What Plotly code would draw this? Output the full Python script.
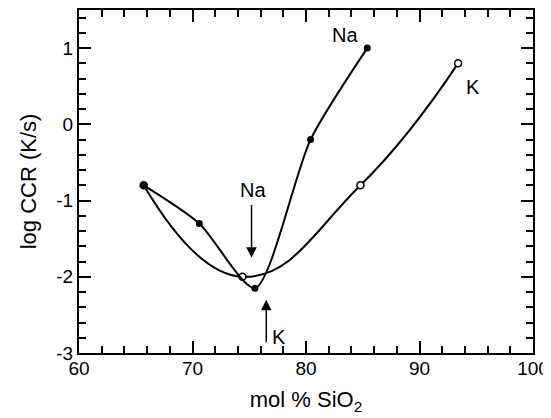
import plotly.graph_objects as go

na_sio2 = [65.7, 70.6, 75.5, 80.4, 85.4]
na_logccr = [-0.8, -1.3, -2.15, -0.2, 1.0]
k_sio2 = [65.7, 74.4, 84.8, 93.4]
k_logccr = [-0.8, -2.0, -0.8, 0.8]

x_tickvals = [60, 70, 80, 90, 100]
x_ticktext = ["60", "70", "80", "90", "100"]
y_tickvals = [-3, -2, -1, 0, 1]
y_ticktext = ["-3", "-2", "-1", "0", "1"]

FONT = "Liberation Sans, Arial, Helvetica, sans-serif"

fig = go.Figure()
fig.add_trace(go.Scatter(
    x=k_sio2, y=k_logccr, mode="lines+markers",
    line=dict(color="black", width=2, shape="spline", smoothing=1.3),
    marker=dict(symbol="circle", size=7, color="white", line=dict(color="black", width=1.5)),
    name="K", showlegend=False))
fig.add_trace(go.Scatter(
    x=na_sio2, y=na_logccr, mode="lines+markers",
    line=dict(color="black", width=2, shape="spline", smoothing=0.7),
    marker=dict(symbol="circle", size=7, color="black"),
    name="Na", showlegend=False))

ann = [
    dict(x=83.4, y=1.17, text="Na", showarrow=False),
    dict(x=94.7, y=0.49, text="K", showarrow=False),
    dict(x=75.3, y=-0.86, text="Na", showarrow=False),
    dict(x=77.65, y=-2.79, text="K", showarrow=False),
]
annotations = [dict(a, xref="x", yref="y", font=dict(size=20, color="black", family=FONT)) for a in ann]
annotations += [
    dict(x=75.2, y=-1.75, ax=75.2, ay=-1.04, xref="x", yref="y", axref="x", ayref="y",
         text="", showarrow=True, arrowhead=2, arrowsize=1.4, arrowwidth=1.5, arrowcolor="black"),
    dict(x=76.5, y=-2.30, ax=76.5, ay=-2.88, xref="x", yref="y", axref="x", ayref="y",
         text="", showarrow=True, arrowhead=2, arrowsize=1.4, arrowwidth=1.5, arrowcolor="black"),
]

axis_common = dict(
    showgrid=False, zeroline=False, showline=True, linecolor="black", linewidth=2,
    mirror="allticks", ticks="inside", ticklen=12, tickwidth=1.5, tickcolor="black",
    tickfont=dict(size=19, color="black", family=FONT), automargin=False,
)
fig.update_xaxes(range=[60, 100], tickmode="array", tickvals=x_tickvals, ticktext=x_ticktext,
                 ticklabelstandoff=-3,
                 minor=dict(dtick=2, tick0=60, ticks="inside", ticklen=7, tickwidth=1.5, tickcolor="black"),
                 title=dict(text="mol % SiO<sub>2</sub>", font=dict(size=22, color="black", family=FONT), standoff=14),
                 **axis_common)
fig.update_yaxes(range=[-3, 1.5], tickmode="array", tickvals=y_tickvals, ticktext=y_ticktext,
                 minor=dict(dtick=0.2, tick0=-3, ticks="inside", ticklen=7, tickwidth=1.5, tickcolor="black"),
                 title=dict(text="log CCR (K/s)", font=dict(size=22, color="black", family=FONT), standoff=14),
                 **axis_common)

# The page body adds an 8px margin around the figure, so the figure is sized to fill the rest.
fig.update_layout(
    width=543, height=410,
    margin=dict(l=71, r=18, t=2, b=65),
    plot_bgcolor="white", paper_bgcolor="white",
    annotations=annotations,
    font=dict(family=FONT, color="black"),
)

fig.write_html("out.html")
